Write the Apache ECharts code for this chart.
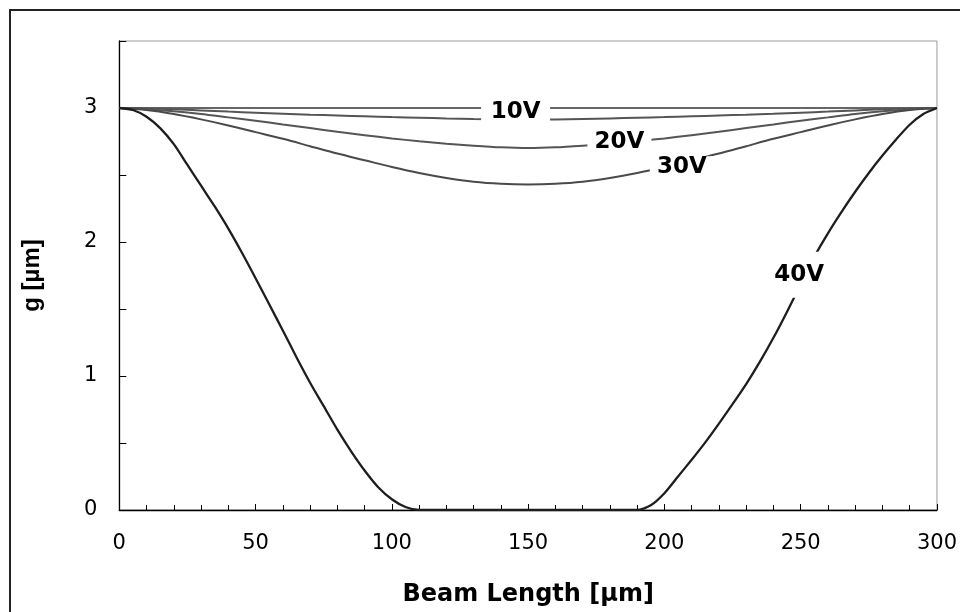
<!DOCTYPE html>
<html>
<head>
<meta charset="utf-8">
<script src="https://cdn.jsdelivr.net/npm/echarts@6/dist/echarts.min.js"></script>
<style>html,body{margin:0;padding:0;background:#fff}#c{width:960px;height:612px}</style>
</head>
<body>
<div id="c"></div>
<script>
// x positions (µm)
const xFine = [0,10,20,30,40,50,60,70,80,90,100,110,120,130,140,150,160,170,180,190,200,210,220,230,240,250,260,270,280,290,300];
const x40 = [0,5,10,15,20,25,30,35,40,45,50,55,60,65,70,75,80,85,90,95,100,105,110,115,120,125,130,135,140,145,150,155,160,165,170,175,180,185,190,195,200,205,210,215,220,225,230,235,240,245,250,255,260,265,270,275,280,285,290,295,300];
const x0 = [0, 300];
// gap g (µm)
const g0V = [3.0, 3.0];
const g10V = [3.000,2.997,2.990,2.982,2.973,2.965,2.957,2.950,2.944,2.938,2.932,2.927,2.922,2.918,2.915,2.914,2.915,2.918,2.922,2.927,2.932,2.938,2.944,2.950,2.957,2.965,2.973,2.982,2.990,2.997,3.000];
const g20V = [3.000,2.990,2.975,2.955,2.930,2.905,2.877,2.850,2.822,2.797,2.773,2.752,2.734,2.719,2.707,2.702,2.707,2.719,2.734,2.752,2.773,2.797,2.822,2.850,2.877,2.905,2.930,2.955,2.975,2.990,3.000];
const g30V = [3.000,2.985,2.955,2.915,2.870,2.820,2.770,2.715,2.660,2.610,2.560,2.515,2.478,2.450,2.435,2.430,2.435,2.450,2.478,2.515,2.560,2.610,2.660,2.715,2.770,2.820,2.870,2.915,2.955,2.985,3.000];
const g40V = [3.000,2.985,2.935,2.850,2.730,2.575,2.420,2.265,2.100,1.920,1.730,1.535,1.340,1.140,0.950,0.775,0.600,0.440,0.295,0.170,0.080,0.022,0.000,
  0,0,0,0,0,0,0,0,0,0,0,0,0,0,0,
  0.000,0.035,0.125,0.250,0.375,0.505,0.645,0.790,0.940,1.105,1.285,1.480,1.685,1.890,2.065,2.225,2.375,2.515,2.645,2.765,2.875,2.955,3.000];
// curve labels (text and data-space anchor)
const labelNames = ['10V','20V','30V','40V'];
const labelAnchors = [[145.4,2.971],[183.5,2.748],[206.4,2.557],[249.4,1.755]];
// axis ticks
const xTicks = [0,50,100,150,200,250,300];
const yTicks = [0,1,2,3];

const pair = (xs, ys) => xs.map((x,i)=>[x, ys[i]]);
const boxSizes = [[69,24],[64,22],[64,22],[56,46]];

const chart = echarts.init(document.getElementById('c'), null, {renderer:'canvas'});
const lineBase = {type:'line', showSymbol:false, symbol:'none', silent:true, z:2};
chart.setOption({
  animation:false,
  backgroundColor:'#fff',
  grid:{left:119.3, right:22, top:41, bottom:101.3, show:true, borderColor:'#9a9a9a', borderWidth:1, backgroundColor:'transparent'},
  graphic:[{type:'rect', shape:{x:10,y:10,width:1000,height:700}, style:{fill:'none', stroke:'#222', lineWidth:2}, silent:true}],
  xAxis:{
    type:'value', min:xTicks[0], max:xTicks[xTicks.length-1], interval:50,
    name:'Beam Length [µm]', nameLocation:'middle', nameGap:73,
    nameTextStyle:{fontFamily:'DejaVu Sans', fontWeight:'bold', fontSize:24, color:'#000'},
    axisLine:{show:true, onZero:false, lineStyle:{color:'#000', width:1.3}},
    axisTick:{show:true, inside:true, length:6, lineStyle:{color:'#000', width:1}},
    minorTick:{show:true, splitNumber:5, length:5, lineStyle:{color:'#000', width:1}},
    splitLine:{show:false}, minorSplitLine:{show:false},
    axisLabel:{margin:23, fontFamily:'DejaVu Sans', fontSize:21, color:'#000'}
  },
  yAxis:{
    type:'value', min:0, max:3.5, interval:0.5,
    name:'g [µm]', nameLocation:'middle', nameGap:75, nameRotate:90,
    nameTextStyle:{fontFamily:'Liberation Sans', fontWeight:'bold', fontSize:24, color:'#000'},
    axisLine:{show:true, onZero:false, lineStyle:{color:'#000', width:1.3}},
    axisTick:{show:true, inside:true, length:7, lineStyle:{color:'#000', width:1}},
    splitLine:{show:false},
    axisLabel:{margin:22, fontFamily:'DejaVu Sans', fontSize:21, color:'#000',
      formatter:(v)=> yTicks.indexOf(v) >= 0 ? String(v) : ''}
  },
  series:[
    Object.assign({}, lineBase, {name:'0V', data:pair(x0,g0V), lineStyle:{color:'#333', width:1.5}}),
    Object.assign({}, lineBase, {name:'10V', smooth:0.3, data:pair(xFine,g10V), lineStyle:{color:'#555', width:2}}),
    Object.assign({}, lineBase, {name:'20V', smooth:0.3, data:pair(xFine,g20V), lineStyle:{color:'#555', width:2}}),
    Object.assign({}, lineBase, {name:'30V', smooth:0.3, data:pair(xFine,g30V), lineStyle:{color:'#4a4a4a', width:2}}),
    Object.assign({}, lineBase, {name:'40V', smooth:0.25, data:pair(x40,g40V), lineStyle:{color:'#1e1e1e', width:2.3, join:'round'}}),
    {
      type:'scatter', name:'labels', silent:true, z:10,
      symbol:'rect',
      itemStyle:{color:'#fff', opacity:1},
      data: labelAnchors.map((p,i)=>({value:[p[0],p[1]], name:labelNames[i], symbolSize:boxSizes[i]})),
      label:{show:true, position:'inside', formatter:(p)=>p.name,
        fontFamily:'DejaVu Sans', fontWeight:'bold', fontSize:23, color:'#000'},
      emphasis:{disabled:true}
    }
  ]
});
</script>
</body>
</html>
